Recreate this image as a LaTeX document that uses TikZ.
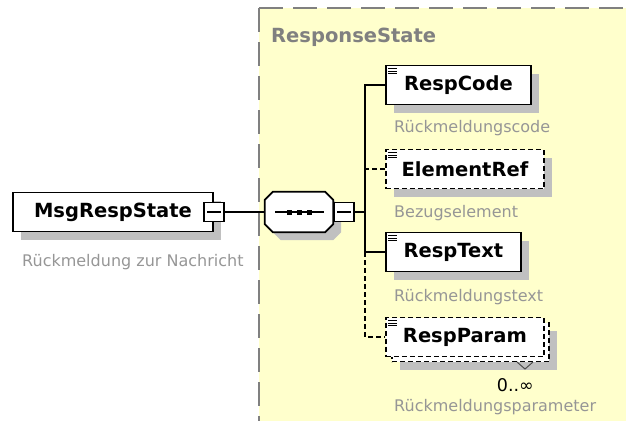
\documentclass[tikz,border=0pt]{standalone}
\usepackage{fontspec}
\setmainfont{DejaVu Sans}
\usetikzlibrary{shadows}
\definecolor{xsdyellow}{RGB}{255,255,204}
\definecolor{shadowgray}{RGB}{192,192,192}
\definecolor{notegray}{RGB}{150,150,150}
\definecolor{titlegray}{RGB}{128,128,128}

\begin{document}
\begin{tikzpicture}[x=1pt,y=-1pt,
  box/.style={draw,fill=white,line width=1.8pt,minimum height=39pt,inner sep=0pt,
    font=\fontsize{19.5}{20}\selectfont\bfseries},
  shade/.style={drop shadow={shadow xshift=8pt,shadow yshift=-8pt,fill=shadowgray,opacity=1}},
  elem/.style={box,shade},
  opt/.style={dash pattern=on 5pt off 3pt},
  minusbox/.style={draw,fill=white,line width=1.5pt,minimum width=20pt,minimum height=19pt,inner sep=0pt},
  note/.style={anchor=west,inner sep=0pt,text=notegray,font=\fontsize{16}{18}\selectfont,
    text height=12pt,text depth=3.5pt},
  conn/.style={line width=1.6pt},
  optconn/.style={conn,opt}]

\useasboundingbox (0,0) rectangle (626,421);

% the group
\fill[xsdyellow] (259,8) rectangle (626,421);
\draw[titlegray,line width=1.8pt,dash pattern=on 24pt off 10pt] (259,8) -- (626,8);
\draw[titlegray,line width=1.8pt,dash pattern=on 24pt off 10pt] (259,8) -- (259,421);
\node[anchor=west,inner sep=0pt,text=titlegray,font=\fontsize{19.5}{20}\selectfont\bfseries] (group) at (271,37) {ResponseState};

% root element and sequence
\node[elem,minimum width=200pt] (msg) at (113,212) {MsgRespState};
\node[minusbox] (msgm) at (msg.east) {};
\node[note] (msgnote) at (22,262) {Rückmeldung zur Nachricht};

\node[minimum width=68pt,minimum height=40pt,inner sep=0pt] (seq) at (299,212) {};
\draw[fill=white,line width=1.8pt,shade]
  ([xshift=8pt]seq.north west) -- ([xshift=-8pt]seq.north east)
  -- ([yshift=-8pt]seq.north east) -- ([yshift=8pt]seq.south east)
  -- ([xshift=-8pt]seq.south east) -- ([xshift=8pt]seq.south west)
  -- ([yshift=8pt]seq.south west) -- ([yshift=-8pt]seq.north west) -- cycle;
\node[minusbox,anchor=west] (seqm) at (seq.east) {};
\coordinate (fork) at (365,212);

% children
\node[elem,minimum width=145pt,anchor=west] (code) at (385,85) {RespCode};
\node[elem,opt,minimum width=158pt,anchor=west] (elref) at (385,169) {ElementRef};
\node[elem,minimum width=135pt,anchor=west] (rtext) at (385,252) {RespText};
\node[elem,opt,minimum width=157pt,anchor=west] (rparamb) at (391,342) {};
\node[box,opt,minimum width=158pt,anchor=west] (rparam) at (385,337) {RespParam};

\node[note] (codenote) at (394,128) {Rückmeldungscode};
\node[note] (elrefnote) at (394,213) {Bezugselement};
\node[note] (rtextnote) at (394,297) {Rückmeldungstext};
\node[note] (rparamnote) at (394,407) {Rückmeldungsparameter};
\node[anchor=east,inner sep=0pt,font=\fontsize{17.5}{19}\selectfont] (occ) at (534,385) {0..∞};
\draw[line width=1pt,black!70] (517,362) -- (525,369) -- (533,362);

% connectors
\draw[conn] (msgm) -- (seq);
\draw[conn] (seqm) -- (fork);
\draw[conn] (rtext.west) -| (fork) |- (code.west);
\draw[optconn] (elref.west) -- (elref.west -| fork);
\draw[optconn] (rtext.west -| fork) |- (rparam.west);

% minus signs, sequence symbol, element icons
\foreach \m in {msgm,seqm}
  \draw[line width=1.4pt] ([xshift=4pt]\m.west) -- ([xshift=-4pt]\m.east);
\draw[line width=1.4pt] ([xshift=-24pt]seq.center) -- ([xshift=25pt]seq.center);
\foreach \x in {-10,0,10}
  \fill ([xshift=\x pt]seq.center) +(-2.5,-2.5) rectangle +(2.5,2.5);
\foreach \b in {code,elref,rtext,rparam}
  \foreach \d in {4,6.5,9}
    \draw[line width=0.8pt] ([xshift=3pt,yshift=-\d pt]\b.north west) -- ++(9,0);

\end{tikzpicture}
\end{document}
